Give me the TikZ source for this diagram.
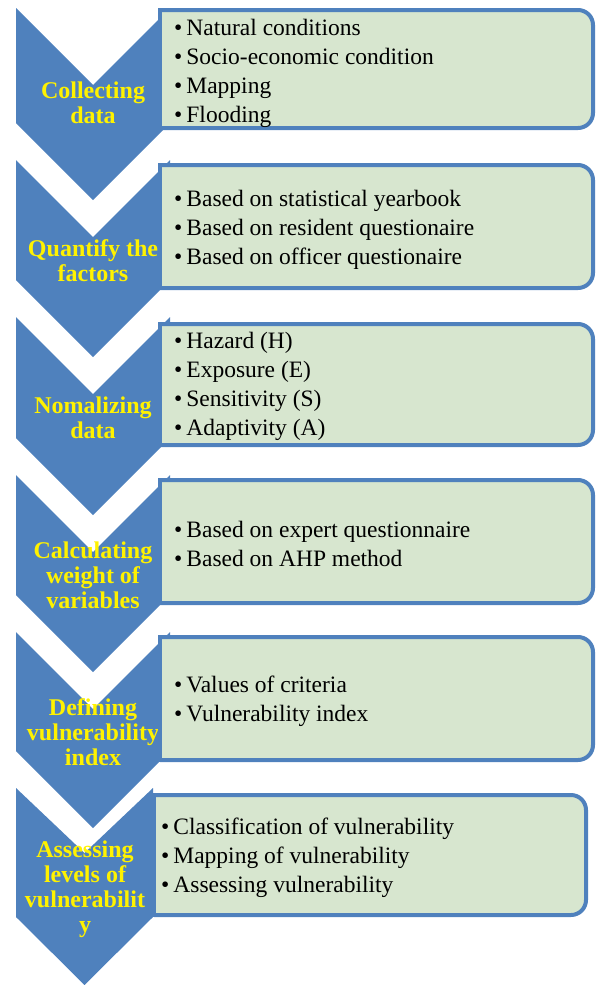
\documentclass[tikz,border=0pt]{standalone}
\usepackage{fontspec}
\setmainfont{Liberation Serif}
\definecolor{chevblue}{RGB}{79,129,189}
\definecolor{boxgreen}{RGB}{215,230,207}
\tikzset{
  chevron/.style={fill=chevblue},
  chevtext/.style={text=yellow, font=\bfseries\fontsize{24}{25}\selectfont, align=center, inner sep=0pt},
  infobox/.style={fill=boxgreen, draw=chevblue, line width=4pt, rounded corners=15pt},
  boxedge/.style={draw=chevblue, line width=4pt},
  itemlist/.style={anchor=west, align=left, inner sep=0pt, font=\fontsize{23.5}{29}\selectfont}
}
\newcommand{\itm}{\textbullet\hspace{4pt}}

\begin{document}
\begin{tikzpicture}[x=1pt,y=-1pt]
                    \useasboundingbox (0,0) rectangle (595,985);
                    % chevrons
                    \fill[chevron] (16,8) -- (93,85) -- (170,8) -- (170,123) -- (93,200) -- (16,123) -- cycle;
                    \fill[chevron] (16,160) -- (93,237) -- (170,160) -- (170,280) -- (93,357) -- (16,280) -- cycle;
                    \fill[chevron] (16,317) -- (93,394) -- (170,317) -- (170,438) -- (93,515) -- (16,438) -- cycle;
                    \fill[chevron] (16,475) -- (93,552) -- (170,475) -- (170,595) -- (93,672) -- (16,595) -- cycle;
                    \fill[chevron] (16,632) -- (93,709) -- (170,632) -- (170,751) -- (93,828) -- (16,751) -- cycle;
                    \fill[chevron] (16,788) -- (84.5,853) -- (153,788) -- (153,917) -- (84.5,985) -- (16,917) -- cycle;
                    \node[chevtext] (collect) at (93,102.5) {Collecting\\data};
                    \node[chevtext] (quantify) at (93,260.5) {Quantify the\\factors};
                    \node[chevtext] (normalize) at (93,417.5) {Nomalizing\\data};
                    \node[chevtext] (weight) at (93,575) {Calculating\\weight of\\variables};
                    \node[chevtext] (index) at (93,732) {Defining\\vulnerability\\index};
                    \node[chevtext] (assess) at (85,889.5) {Assessing\\levels of\\vulnerabilit\\y};
                    % boxes
                    \filldraw[infobox] (160,10) -- (593,10) -- (593,128) -- (160,128);
                    \draw[boxedge] (160,8) -- (160,130);
                    \filldraw[infobox] (160,165) -- (593,165) -- (593,288) -- (160,288);
                    \draw[boxedge] (160,163) -- (160,290);
                    \filldraw[infobox] (160,324) -- (593,324) -- (593,445) -- (160,445);
                    \draw[boxedge] (160,322) -- (160,447);
                    \filldraw[infobox] (160,480) -- (593,480) -- (593,603) -- (160,603);
                    \draw[boxedge] (160,478) -- (160,605);
                    \filldraw[infobox] (160,637) -- (593,637) -- (593,760) -- (160,760);
                    \draw[boxedge] (160,635) -- (160,762);
                    \filldraw[infobox] (154,795) -- (586,795) -- (586,915) -- (154,915);
                    \draw[boxedge] (154,793) -- (154,917);
                    \node[itemlist] (collectlist) at (174,73.5) {\itm Natural conditions\\\itm Socio-economic condition\\\itm Mapping\\\itm Flooding};
                    \node[itemlist] (quantifylist) at (174,230) {\itm Based on statistical yearbook\\\itm Based on resident questionaire\\\itm Based on officer questionaire};
                    \node[itemlist] (normalizelist) at (174,386.5) {\itm Hazard (H)\\\itm Exposure (E)\\\itm Sensitivity (S)\\\itm Adaptivity (A)};
                    \node[itemlist] (weightlist) at (174,543.5) {\itm Based on expert questionnaire\\\itm Based on AHP method};
                    \node[itemlist] (indexlist) at (174,701.5) {\itm Values of criteria\\\itm Vulnerability index};
                    \node[itemlist] (assesslist) at (161,858) {\itm Classification of vulnerability\\\itm Mapping of vulnerability\\\itm Assessing vulnerability};
                \end{tikzpicture}
\end{document}
